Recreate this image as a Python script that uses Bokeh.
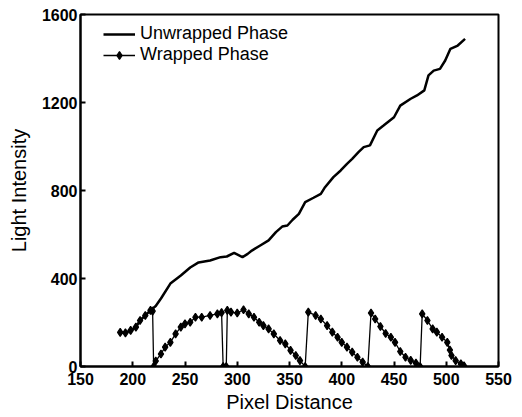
from bokeh.plotting import figure
from bokeh.models import Range1d, FixedTicker
from bokeh.embed import file_html
from bokeh.resources import INLINE

# ---- data ----
unwrapped_x = [188, 193, 198, 203, 207, 212, 217, 222, 227, 236, 246, 255, 263, 274,
               284, 290, 297, 305, 310, 314, 322, 330, 337, 343, 348, 353, 359, 365,
               373, 380, 384, 392, 399, 405, 410, 416, 421, 427, 434, 440, 450, 456,
               466, 472, 479, 483, 488, 494, 499, 504, 511, 518]
unwrapped_y = [155, 153, 164, 179, 209, 232, 255, 275, 309, 377, 414, 450, 473, 482,
               497, 500, 516, 497, 512, 527, 550, 573, 611, 636, 641, 667, 694, 747,
               767, 785, 815, 861, 891, 921, 944, 974, 997, 1005, 1073, 1095, 1133, 1186,
               1217, 1232, 1255, 1323, 1345, 1353, 1391, 1444, 1459, 1489]

wrapped_x = [188, 193, 198, 203, 207, 212, 217, 219, 220,
             222, 227, 231, 236, 241, 246, 250, 255, 260, 266, 274, 281, 285,
             286.5, 289.5, 290.5,
             294, 300, 306, 311, 316, 321, 325, 330, 335, 341, 346, 351, 356, 360, 365,
             368, 375, 380, 386, 391, 396, 400, 405, 410, 415, 420, 425,
             428, 432, 437, 442, 447, 451, 456, 461, 466, 471, 475,
             477, 482, 487, 491, 496, 501, 503.5, 505, 509, 514, 517]
wrapped_y = [155, 153, 164, 179, 209, 232, 255, 252, 0,
             25, 57, 88, 110, 148, 179, 194, 201, 224, 224, 232, 239, 245,
             0, 0, 255,
             247, 243, 258, 239, 224, 201, 186, 171, 148, 118, 103, 73, 50, 27, 0,
             247, 232, 216, 186, 156, 133, 110, 88, 65, 42, 20, 0,
             243, 216, 182, 150, 133, 110, 68, 42, 28, 15, 0,
             239, 209, 171, 156, 133, 110, 75, 50, 27, 12, 3]

x_ticks = [150, 200, 250, 300, 350, 400, 450, 500, 550]
y_ticks = [0, 400, 800, 1200, 1600]

FONT = "Liberation Sans"

p = figure(width=522, height=417, output_backend="svg", toolbar_location=None,
           x_range=Range1d(150, 550), y_range=Range1d(0, 1600),
           min_border_left=80, min_border_right=24, min_border_top=14,
           min_border_bottom=51)

p.line(unwrapped_x, unwrapped_y, line_color="black", line_width=2.5,
       legend_label="Unwrapped Phase")
p.line(wrapped_x, wrapped_y, line_color="black", line_width=1.3,
       legend_label="Wrapped Phase")
p.scatter(wrapped_x, wrapped_y, marker="diamond", size=8, fill_color="black",
          line_color="black", line_width=1.2, legend_label="Wrapped Phase")

p.xgrid.visible = False
p.ygrid.visible = False
p.background_fill_color = "white"
p.border_fill_color = "white"
p.outline_line_color = "black"
p.outline_line_width = 2

for ax in (p.xaxis[0], p.yaxis[0]):
    ax.axis_line_width = 2
    ax.axis_line_color = "black"
    ax.major_tick_in = 5
    ax.major_tick_out = 0
    ax.major_tick_line_width = 2
    ax.minor_tick_line_color = None
    ax.major_label_text_font = FONT
    ax.major_label_text_font_size = "16px"
    ax.major_label_text_font_style = "bold"
    ax.major_label_text_color = "black"
    ax.axis_label_text_font = FONT
    ax.axis_label_text_font_size = "20px"
    ax.axis_label_text_font_style = "normal"
    ax.axis_label_text_color = "black"

p.xaxis[0].ticker = FixedTicker(ticks=x_ticks)
p.yaxis[0].ticker = FixedTicker(ticks=y_ticks)
p.xaxis[0].axis_label = "Pixel Distance"
p.yaxis[0].axis_label = "Light Intensity"
p.xaxis[0].major_label_standoff = 6
p.xaxis[0].axis_label_standoff = 3
p.yaxis[0].major_label_standoff = 3
p.yaxis[0].axis_label_standoff = 9

lg = p.legend[0]
lg.location = (23, 301)
lg.margin = 0
lg.padding = 0
lg.spacing = 0
lg.border_line_color = None
lg.background_fill_alpha = 0
lg.glyph_width = 32
lg.label_standoff = 5
lg.label_text_font = FONT
lg.label_text_font_size = "18px"
lg.label_text_color = "black"

open("out.html", "w").write(file_html(p, INLINE))
